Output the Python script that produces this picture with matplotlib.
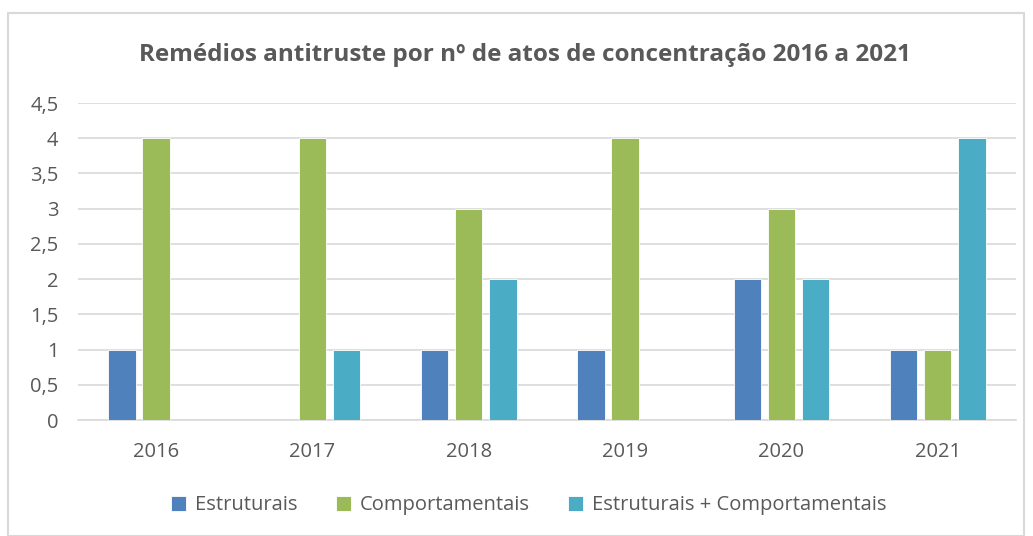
import numpy as np
import matplotlib.pyplot as plt
from matplotlib.patches import Rectangle

plt.rcParams['font.family'] = ['Open Sans', 'DejaVu Sans']

anos = ['2016', '2017', '2018', '2019', '2020', '2021']
estruturais = [1, 0, 1, 1, 2, 1]
comportamentais = [4, 4, 3, 4, 3, 1]
ambos = [0, 1, 2, 0, 2, 4]

series = [
    ('Estruturais', estruturais, '#4F81BD'),
    ('Comportamentais', comportamentais, '#9BBB59'),
    ('Estruturais + Comportamentais', ambos, '#4BACC6'),
]

cinza = '#595959'

fig = plt.figure(figsize=(10.33, 5.36), dpi=100)
ax = fig.add_axes([0.0755, 0.2164, 0.908, 0.5914])

x = np.arange(len(anos))
largura = 0.175
passo = 0.218
for i, (nome, vals, cor) in enumerate(series):
    ax.bar(x + (i - 1) * passo, vals, largura, color=cor, label=nome,
           edgecolor='white', linewidth=0.6, zorder=3)

ax.set_xlim(-0.5, len(anos) - 0.5)
ax.set_ylim(0, 4.5)
ax.set_yticks(np.arange(0, 4.51, 0.5))
ax.set_yticklabels([f'{v:g}'.replace('.', ',') for v in np.arange(0, 4.51, 0.5)])
ax.set_xticks(x)
ax.set_xticklabels(anos)
ax.tick_params(axis='both', length=0, labelsize=14.5, colors=cinza)
ax.tick_params(axis='x', pad=16)
ax.tick_params(axis='y', pad=14)
ax.grid(axis='y', color='#D9D9D9', linewidth=1.2, zorder=0)
for s in ['top', 'right', 'left']:
    ax.spines[s].set_visible(False)
ax.spines['bottom'].set_color('#D9D9D9')
ax.spines['bottom'].set_linewidth(1.2)

fig.text(0.508, 0.897, 'Remédios antitruste por nº de atos de concentração 2016 a 2021',
         ha='center', va='center', fontsize=17.5, fontweight='bold', color=cinza)

leg = fig.legend(loc='center', bbox_to_anchor=(0.512, 0.057), ncol=3, frameon=False,
                 fontsize=14.5, handlelength=0.75, handleheight=0.75, columnspacing=1.9,
                 handletextpad=0.45)
for t in leg.get_texts():
    t.set_color(cinza)

fig.patches.append(Rectangle((8 / 1033, 0), 1016 / 1033, 523 / 536, transform=fig.transFigure,
                             fill=False, edgecolor='#D9D9D9', linewidth=1.5))

fig.savefig('out.png', dpi=100)
